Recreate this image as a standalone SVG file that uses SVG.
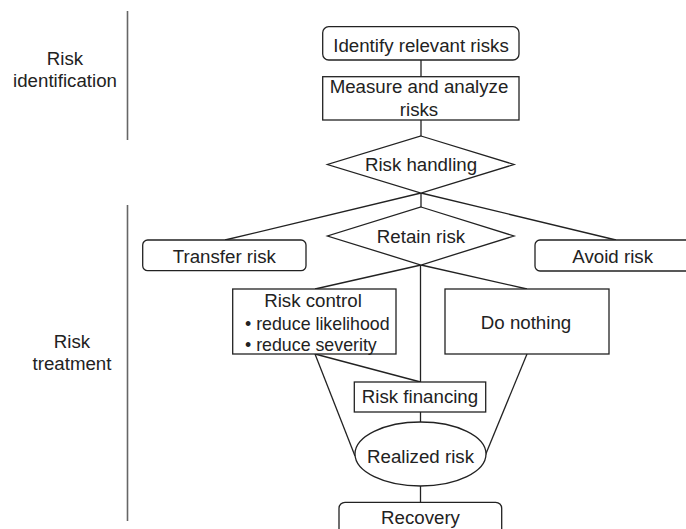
<svg xmlns="http://www.w3.org/2000/svg" width="686" height="529" viewBox="0 0 686 529">
<style>
text{font-family:"Liberation Sans",Arial,sans-serif;font-size:18.7px;fill:#222;text-anchor:middle}
.b{text-anchor:start;font-size:17.8px}
.s{fill:#fff;stroke:#222;stroke-width:1.3}
.c{stroke:#222;stroke-width:1.3;fill:none}
.g{stroke:#666;stroke-width:1.6}
</style>
<rect width="686" height="529" fill="#fff"/>
<g id="labels">
<line class="g" x1="127.5" y1="11" x2="127.5" y2="140"/>
<line class="g" x1="127.5" y1="205" x2="127.5" y2="521"/>
<text x="65" y="65">Risk</text>
<text x="65" y="87">identification</text>
<text x="72" y="348">Risk</text>
<text x="72" y="370">treatment</text>
</g>
<g id="connectors">
<line class="c" x1="421" y1="60" x2="421" y2="77"/>
<line class="c" x1="421" y1="120" x2="421" y2="136"/>
<line class="c" x1="421" y1="193" x2="421" y2="207"/>
<line class="c" x1="421" y1="193" x2="225" y2="240"/>
<line class="c" x1="421" y1="193" x2="616" y2="240"/>
<line class="c" x1="421" y1="265" x2="315" y2="289"/>
<line class="c" x1="421" y1="265" x2="527" y2="289"/>
<line class="c" x1="420.5" y1="265" x2="420.5" y2="382"/>
<line class="c" x1="315" y1="354" x2="420.5" y2="382"/>
<line class="c" x1="315" y1="354" x2="355" y2="456"/>
<line class="c" x1="527" y1="354" x2="485" y2="456"/>
<line class="c" x1="420.5" y1="412" x2="420.5" y2="422"/>
<line class="c" x1="420.5" y1="486" x2="420.5" y2="502"/>
</g>
<g id="identify">
<rect class="s" x="322.7" y="26.7" width="196.3" height="33.3" rx="6"/>
<text x="421" y="51.5">Identify relevant risks</text>
</g>
<g id="measure">
<rect class="s" x="322.7" y="76.7" width="196.3" height="43.3"/>
<text x="419" y="93">Measure and analyze</text>
<text x="419" y="116">risks</text>
</g>
<g id="handling">
<polygon class="s" points="421,136 514,164.5 421,193 327.5,164.5"/>
<text x="421" y="171">Risk handling</text>
</g>
<g id="retain">
<polygon class="s" points="421,207 514,236 421,265 327.5,236"/>
<text x="421" y="243">Retain risk</text>
</g>
<g id="transfer">
<rect class="s" x="142.7" y="240" width="163.3" height="30.7" rx="5"/>
<text x="224.3" y="262.5">Transfer risk</text>
</g>
<g id="avoid">
<rect class="s" x="535" y="240" width="156" height="31" rx="5"/>
<text x="612.7" y="262.5">Avoid risk</text>
</g>
<g id="control">
<rect class="s" x="232.7" y="289" width="163.3" height="65"/>
<text x="313" y="307">Risk control</text>
<text class="b" x="245" y="330">• reduce likelihood</text>
<text class="b" x="245" y="350.5">• reduce severity</text>
</g>
<g id="nothing">
<rect class="s" x="445" y="289" width="164" height="65"/>
<text x="526" y="329">Do nothing</text>
</g>
<g id="financing">
<rect class="s" x="354.3" y="382" width="131.4" height="30"/>
<text x="420" y="403.3">Risk financing</text>
</g>
<g id="realized">
<ellipse class="s" cx="420.5" cy="454" rx="65.5" ry="32"/>
<text x="420.5" y="463">Realized risk</text>
</g>
<g id="recovery">
<rect class="s" x="339" y="502.3" width="162.7" height="35" rx="6"/>
<text x="420.5" y="524">Recovery</text>
</g>
</svg>
